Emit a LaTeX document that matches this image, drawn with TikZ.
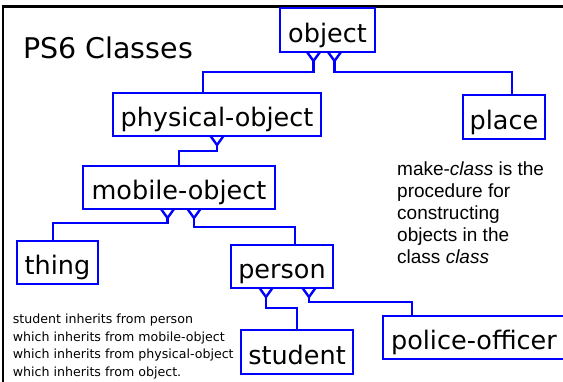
\documentclass[tikz,border=0pt]{standalone}
\usepackage{fontspec}
\setmainfont{DejaVu Sans}
\newfontfamily\notefont{Liberation Sans}
\usetikzlibrary{calc}
\definecolor{boxblue}{RGB}{0,0,255}
\tikzset{
  cls/.style={draw=boxblue, line width=2.4pt, inner sep=0pt, outer sep=0pt,
    anchor=north west, text height=24pt, text depth=0pt,
    font=\fontsize{25.5}{30}\selectfont},
  conn/.style={draw=boxblue, line width=2.4pt, line join=miter}
}
\newcommand{\inhlink}[5]{%
  \draw[conn] ($(#1.south west)+(#2-6.5,0)$) -- ($(#1.south west)+(#2,9)$) -- ($(#1.south west)+(#2+6.5,0)$);
  \draw[conn] ($(#1.south west)+(#2,9)$) -- ($(#1.south west)+(#2,#3)$) -| ($(#4.north west)+(#5,0)$);
}
\begin{document}
\begin{tikzpicture}[x=1pt,y=-1pt]
\useasboundingbox (0,0) rectangle (563,381);
\fill[white] (0,0) rectangle (563,381);
\draw[black, line width=2.5pt] (3,390) -- (3,6.5) -- (570,6.5);

\node[anchor=base west, inner sep=0pt, font=\fontsize{28.5}{34}\selectfont] (title) at (23,58) {PS6 Classes};

\node[cls, minimum width=95pt, minimum height=44pt] (obj) at (280,8) {object};
\node[cls, minimum width=208pt, minimum height=43pt] (phys) at (113,93) {physical-object};
\node[cls, minimum width=82pt, minimum height=44pt] (place) at (463,95) {place};
\node[cls, minimum width=192pt, minimum height=43pt] (mob) at (83,166) {mobile-object};
\node[cls, minimum width=81pt, minimum height=43pt] (thing) at (17,241) {thing};
\node[cls, minimum width=102pt, minimum height=43pt] (person) at (231,245) {person};
\node[cls, minimum width=112pt, minimum height=44pt] (student) at (241,330) {student};
\node[cls, minimum width=182pt, minimum height=43pt] (police) at (383,316) {police-officer};

\inhlink{obj}{33.5}{20}{phys}{90}
\inhlink{obj}{54.5}{20}{place}{49}
\inhlink{phys}{104}{15}{mob}{96}
\inhlink{mob}{84.5}{14}{thing}{36}
\inhlink{mob}{111}{18}{person}{64}
\inhlink{person}{35}{20}{student}{56}
\inhlink{person}{78}{14}{police}{29}

\node[anchor=base west, inner sep=0pt, align=left,
      font=\notefont\fontsize{19}{22}\selectfont] (note) at (397,263)
  {make-\textit{class} is the\\procedure for\\constructing\\objects in the\\class \textit{class}};

\node[anchor=base west, inner sep=0pt, align=left,
      font=\fontsize{12.6}{17.4}\selectfont] (expl) at (12.7,376)
  {student inherits from person\\which inherits from mobile-object\\which inherits from physical-object\\which inherits from object.};
\end{tikzpicture}
\end{document}
